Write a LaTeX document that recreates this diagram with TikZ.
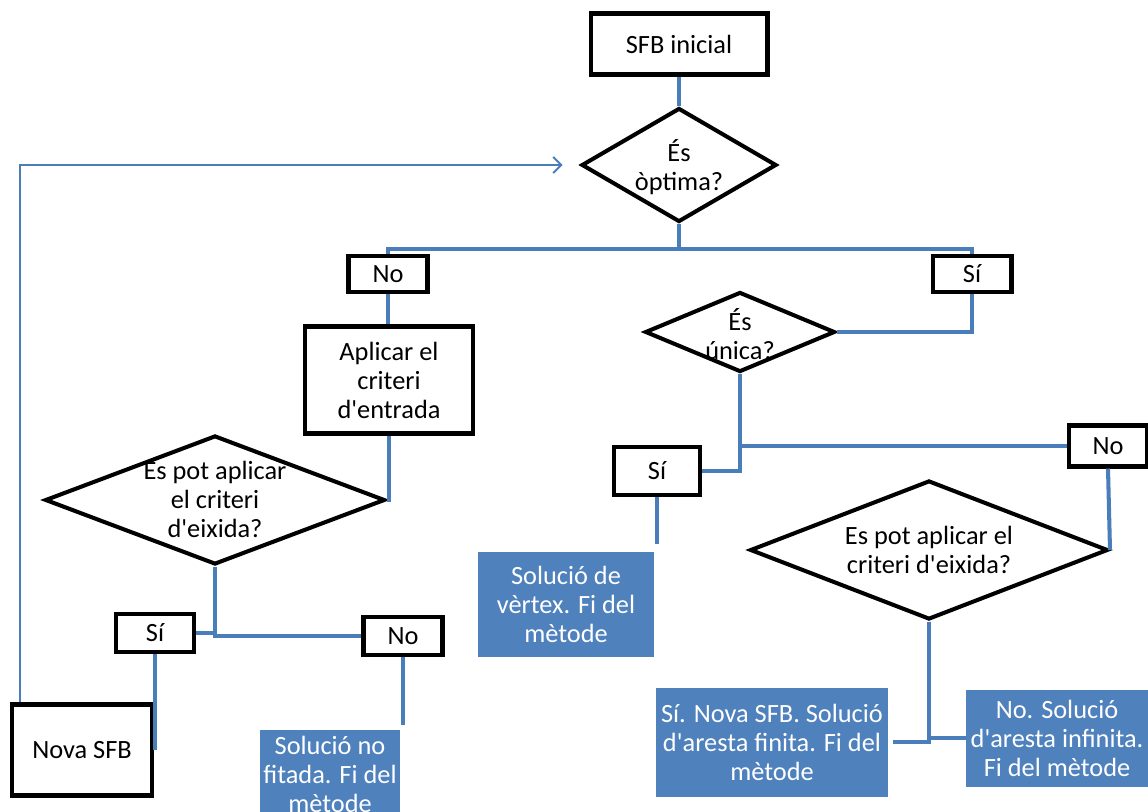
\documentclass[tikz,border=0pt]{standalone}
\usepackage{fontspec}
\setmainfont{Carlito}
\usetikzlibrary{shapes.geometric,arrows.meta}
\definecolor{linkblue}{RGB}{74,126,187}
\definecolor{fillblue}{RGB}{79,129,189}
\newcommand{\apos}{\textquotesingle}
\begin{document}
\begin{tikzpicture}[x=0.02cm, y=-0.02cm,
    every node/.style={font=\fontsize{15}{16.5}\selectfont, align=center, inner sep=0pt},
    box/.style={draw, line width=2.3pt},
    decision/.style={draw, diamond, line width=2.3pt},
    result/.style={fill=fillblue, text=white},
    link/.style={draw=linkblue, line width=2.3pt},
    back/.style={draw=linkblue, line width=1.1pt, -{Straight Barb[length=1.6mm, width=3.2mm]}}]
    \useasboundingbox (0,0) rectangle (1148,811);
    \clip (0,0) rectangle (1148,811);
    \node[box, minimum width=3.54cm, minimum height=1.22cm] (ini) at (679,44) {SFB inicial};
    \node[decision, minimum width=3.9cm, minimum height=2.28cm] (opt) at (679,165) {};
    \node (optq) at (679,167) {És\\òptima?};
    \node[box, minimum width=1.58cm, minimum height=0.72cm] (no1) at (388,274) {No};
    \node[box, minimum width=1.58cm, minimum height=0.72cm] (si1) at (972,274) {Sí};
    \node[box, minimum width=3.36cm, minimum height=2.14cm] (apl) at (389,380) {Aplicar el\\criteri\\d\apos entrada};
    \node[decision, minimum width=6.8cm, minimum height=2.58cm] (ex1) at (215,500) {};
    \node (ex1q) at (215,499) {Es pot aplicar\\el criteri\\d\apos eixida?};
    \node[box, minimum width=1.56cm, minimum height=0.76cm] (si2) at (155,633) {Sí};
    \node[box, minimum width=1.58cm, minimum height=0.76cm] (no2) at (403,636) {No};
    \node[box, minimum width=2.8cm, minimum height=1.82cm] (nova) at (82,750) {Nova SFB};
    \node[result, minimum width=2.8cm, minimum height=1.76cm] (fit) at (330,774) {Solució no\\fitada. Fi del\\mètode};
    \node[decision, minimum width=3.8cm, minimum height=1.6cm] (unq) at (740,332) {};
    \node (unqq) at (740,334) {És\\única?};
    \node[box, minimum width=1.72cm, minimum height=0.96cm] (si3) at (657,471) {Sí};
    \node[box, minimum width=1.56cm, minimum height=0.82cm] (no3) at (1108,446) {No};
    \node[decision, minimum width=7.16cm, minimum height=2.78cm] (ex2) at (929,550) {};
    \node (ex2q) at (929,550) {Es pot aplicar el\\criteri d\apos eixida?};
    \node[result, minimum width=3.54cm, minimum height=2.1cm] (vtx) at (566,604) {Solució de\\vèrtex. Fi del\\mètode};
    \node[result, minimum width=4.64cm, minimum height=2.18cm] (fin) at (772,742) {Sí. Nova SFB. Solució\\d\apos aresta finita. Fi del\\mètode};
    \node[result, minimum width=3.64cm, minimum height=1.94cm] (inf) at (1057,738) {No. Solució\\d\apos aresta infinita.\\Fi del mètode};

    \draw[link] (ini.south) -- (opt.north);
    \draw[link] (opt.south) -- ++(0,25) -| (no1.north);
    \draw[link] (opt.south) -- ++(0,25) -| (si1.north);
    \draw[link] (no1.south) -- (no1.south |- apl.north);
    \draw[link] (apl.south) |- (ex1.east);
    \draw[link] (ex1.south) |- (si2.east);
    \draw[link] (ex1.south) |- (no2.west);
    \draw[link] (si2.south) -- (si2.south |- nova.east);
    \draw[link] (no2.south) -- ([yshift=0.1cm]no2.south |- fit.north);
    \draw[back, shorten >=0.34cm] ([xshift=0.2cm]nova.north west) |- (opt.west);
    \draw[link] (si1.south) |- (unq.east);
    \draw[link] (unq.south) |- (si3.east);
    \draw[link] (unq.south) |- (no3.west);
    \draw[link] (si3.south) -- ([yshift=0.14cm]si3.south |- vtx.north);
    \draw[link] (no3.south) -- (ex2.east);
    \draw[link] (ex2.south) |- ([xshift=0.1cm]fin.east);
    \draw[link] (ex2.south) |- (inf.west);
\end{tikzpicture}
\end{document}
